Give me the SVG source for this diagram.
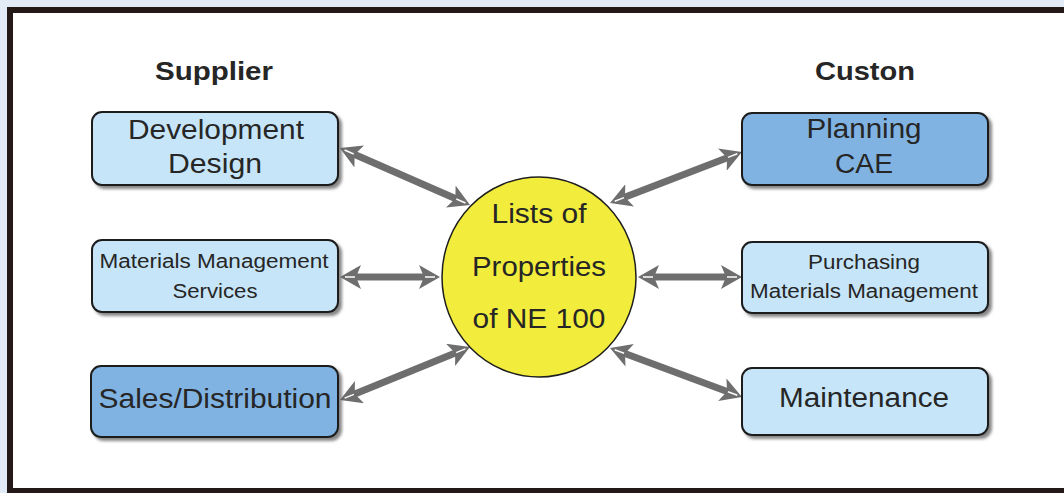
<svg xmlns="http://www.w3.org/2000/svg" width="1064" height="493" viewBox="0 0 1064 493">
<style>
.box{stroke:#1e1e1e;stroke-width:2;filter:url(#sh)}
.light{fill:#c7e5f8}
.dark{fill:#80b3e2}
.t{font-family:"Liberation Sans",Arial,sans-serif;fill:#262626;text-anchor:middle}
.big{font-size:27px}
.small{font-size:20px}
.head{font-size:26px;font-weight:bold}
.arr{stroke:#6e6e6e;stroke-width:7;fill:none;marker-start:url(#ah);marker-end:url(#ah)}
</style>
<defs>
<filter id="sh" x="-10%" y="-10%" width="130%" height="140%">
<feDropShadow dx="3" dy="3" stdDeviation="1.5" flood-color="#555" flood-opacity="0.7"/>
</filter>
<marker id="ah" markerUnits="userSpaceOnUse" viewBox="0 0 22 24" refX="13" refY="12" markerWidth="22" markerHeight="24" orient="auto-start-reverse">
<path d="M0,0 L21,12 L0,24 L5,12 Z" fill="#6e6e6e"/>
<path d="M6,12 L16,12" stroke="#ffffff" stroke-width="1.5"/>
</marker>
</defs>
<rect x="0" y="0" width="1064" height="493" fill="#e2ecf6"/>
<rect x="10" y="10" width="1070" height="481" fill="#ffffff" stroke="#231a17" stroke-width="6"/>

<g id="connectors">
<line class="arr" x1="347.3" y1="151.2" x2="462.7" y2="201.8"/>
<line class="arr" x1="348" y1="277" x2="432" y2="277"/>
<line class="arr" x1="347.4" y1="397" x2="462.6" y2="350"/>
<line class="arr" x1="617.5" y1="200.1" x2="734.5" y2="154.9"/>
<line class="arr" x1="646" y1="277" x2="734" y2="277"/>
<line class="arr" x1="617.5" y1="350.8" x2="734.5" y2="394.2"/>
</g>

<g id="supplier-heading"><text class="t head" x="214" y="80" textLength="118" lengthAdjust="spacingAndGlyphs">Supplier</text></g>
<g id="custon-heading"><text class="t head" x="865" y="80" textLength="100" lengthAdjust="spacingAndGlyphs">Custon</text></g>

<g id="dev-design">
<rect class="box light" x="92" y="112" width="246" height="73" rx="10"/>
<text class="t big" x="216" y="139" textLength="176" lengthAdjust="spacingAndGlyphs">Development</text>
<text class="t big" x="215" y="173" textLength="94" lengthAdjust="spacingAndGlyphs">Design</text>
</g>
<g id="materials-services">
<rect class="box light" x="92" y="240" width="246" height="72" rx="10"/>
<text class="t small" x="214" y="268" textLength="229" lengthAdjust="spacingAndGlyphs">Materials Management</text>
<text class="t small" x="215" y="298" textLength="85" lengthAdjust="spacingAndGlyphs">Services</text>
</g>
<g id="sales">
<rect class="box dark" x="91" y="366" width="247" height="71" rx="10"/>
<text class="t big" x="215" y="408" textLength="233" lengthAdjust="spacingAndGlyphs">Sales/Distribution</text>
</g>
<g id="planning">
<rect class="box dark" x="742" y="113" width="246" height="72" rx="10"/>
<text class="t big" x="864" y="138" textLength="115" lengthAdjust="spacingAndGlyphs">Planning</text>
<text class="t big" x="864" y="173" textLength="58" lengthAdjust="spacingAndGlyphs">CAE</text>
</g>
<g id="purchasing">
<rect class="box light" x="742" y="242" width="246" height="71" rx="10"/>
<text class="t small" x="864" y="269" textLength="112" lengthAdjust="spacingAndGlyphs">Purchasing</text>
<text class="t small" x="864" y="298" textLength="228" lengthAdjust="spacingAndGlyphs">Materials Management</text>
</g>
<g id="maintenance">
<rect class="box light" x="742" y="368" width="246" height="67" rx="10"/>
<text class="t big" x="864" y="407" textLength="170" lengthAdjust="spacingAndGlyphs">Maintenance</text>
</g>
<g id="center">
<ellipse cx="539" cy="277" rx="97" ry="100" fill="#f2ed3c" stroke="#1e1e1e" stroke-width="1.5"/>
<text class="t big" x="539" y="223" textLength="95" lengthAdjust="spacingAndGlyphs">Lists of</text>
<text class="t big" x="539" y="276" textLength="134" lengthAdjust="spacingAndGlyphs">Properties</text>
<text class="t big" x="539" y="328" textLength="133" lengthAdjust="spacingAndGlyphs">of NE 100</text>
</g>
</svg>
